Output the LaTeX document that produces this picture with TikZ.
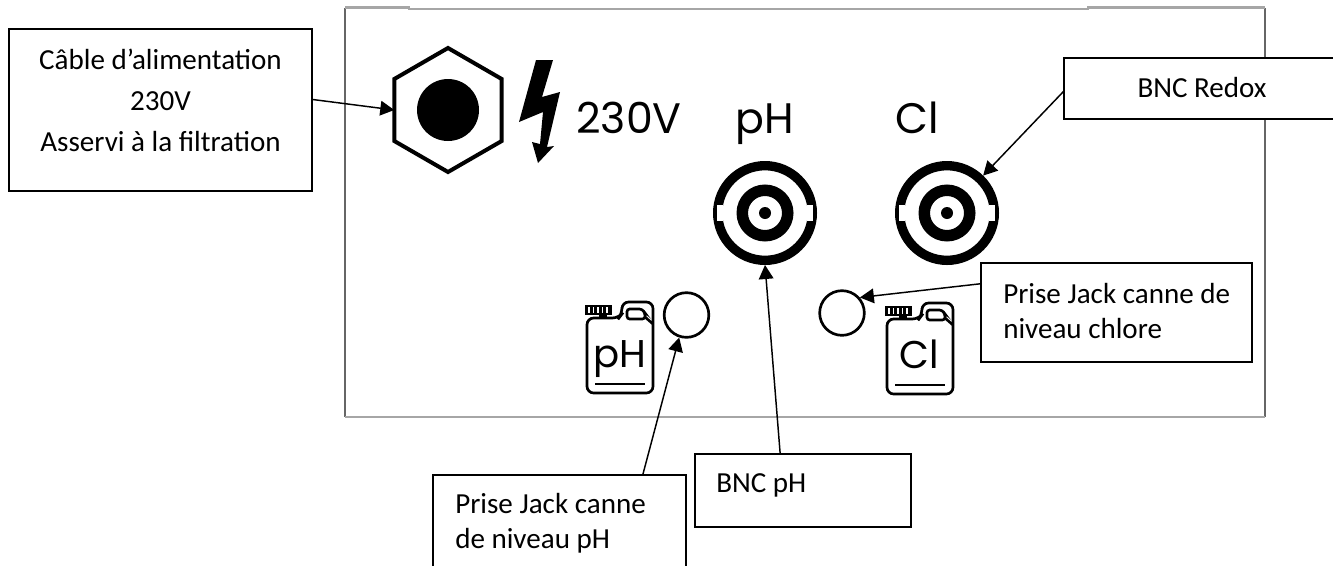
\documentclass[tikz,border=0pt]{standalone}
\usepackage{fontspec}
\setmainfont{Carlito}
\newfontfamily\panelfont{Poppins}
\usetikzlibrary{arrows.meta, shapes.geometric}

\tikzset{
  callout/.style={draw, fill=white, line width=1.2pt, inner sep=0pt, outer sep=0pt},
  calltext/.style={inner sep=0pt, font=\fontsize{21.8}{26.5}\selectfont},
  pointer/.style={line width=1.1pt, -{Triangle[length=10.5pt,width=11pt]}},
  jack/.style={circle, draw, line width=2pt, minimum size=33.5pt, inner sep=0pt, outer sep=1pt},
  bncring/.style={circle, draw, line width=7pt, minimum size=71pt, inner sep=0pt, outer sep=3.5pt},
  paneltext/.style={inner sep=0pt, anchor=base, font=\panelfont\fontsize{#1}{#1}\selectfont},
}

% one BNC socket, the outer ring is the named node
\newcommand{\bncsocket}[3]{
  \node [bncring] (#3) at (#1,#2) {};
  \fill [white] (#1-48,#2-8) rectangle (#1-42,#2+8);
  \fill [white] (#1+42,#2-8) rectangle (#1+48,#2+8);
  \draw [line width=8.6pt] (#1,#2) circle [radius=22.75];
  \fill (#1,#2) circle [radius=6];
}

% one can, drawn at the place of the chlorine one and shifted
\newcommand{\canister}[3]{
\begin{scope}[shift={(#1,#2)}, line width=2pt]
  \draw [rounded corners=5pt] (887,394) -- (887,319) -- (919,319) -- (922,315) -- (922,303) -- (953,303) -- (953,394) -- cycle ;
  \draw [rounded corners=2pt] (927,320) -- (927,310) -- (942,310) -- (945,314) -- (945,320) -- cycle ;
  \draw (945,318) -- (953,325) ;
  \fill (885,306) rectangle (912,316) ;
  \fill (899,316) rectangle (907,319) ;
  \foreach \tick in {889,893.5,898,902.5,907} {
    \draw [white, line width=0.8pt] (\tick,308) -- (\tick,314) ;
  }
  \draw [line width=2.2pt] (895,385) -- (945,385) ;
  \node [paneltext=29] at (919.5,368) {#3};
\end{scope}
}

\begin{document}
\begin{tikzpicture}[x=0.75pt,y=0.75pt,yscale=-1,xscale=1]
\clip (0,0) rectangle (1333,565) ;

%Shape: Panel
\draw [color=black!60, line width=1.1pt] (1265,8) -- (1265,417) ;
\draw [color=black!60, line width=1.1pt] (345,8) -- (345,417) ;
\draw [color=black!35, line width=1.6pt] (345,7.5) -- (409,7.5) -- (409,9) -- (1088,9) -- (1088,7.5) -- (1265,7.5) ;
\draw [color=black!35, line width=1.6pt] (345,417) -- (1265,417) ;

%Shape: Hexagon
\node [regular polygon, regular polygon sides=6, shape border rotate=30, draw, line width=3pt, minimum size=93pt, inner sep=0pt, outer sep=0pt] (mainsHex) at (448,110) {};
\fill (448,110) circle [radius=31] ;
%Shape: Bolt
\fill (536,60) -- (553,60) -- (542,97) -- (560,92) -- (547,147) -- (554,146) -- (538,163) -- (532,142) -- (540,144) -- (543,112) -- (519,122) -- cycle ;

% Text Node
\node [paneltext=32] (voltText) at (629,133) {230V};
\node [paneltext=32] (phText) at (765,133) {pH};
\node [paneltext=32] (clText) at (917.5,133) {Cl};

%Shape: Sockets
\bncsocket{765}{213}{bncPh}
\bncsocket{947}{213}{bncCl}
\node [jack] (jackPh) at (686.5,315) {};
\node [jack] (jackCl) at (842,313) {};
\canister{-300}{-1}{pH}
\canister{0}{0}{Cl}

%Shape: Boxes
\node [callout, minimum width=227.25pt, minimum height=121.5pt] (cableBox) at (160.5,110) {};
\node [callout, minimum width=207pt, minimum height=45.75pt] (redoxBox) at (1202,88.5) {};
\node [callout, minimum width=203.25pt, minimum height=74.25pt] (chloreBox) at (1116.5,312.5) {};
\node [callout, minimum width=189.75pt, minimum height=75pt] (jackPhBox) at (559.5,525) {};
\node [callout, minimum width=162pt, minimum height=54.75pt] (bncPhBox) at (803,490.5) {};

% Text Node
\node [calltext, align=center, font=\fontsize{21.8}{30.75}\selectfont] (cableText) at (160.5,100) {Câble d’alimentation\\230V\\Asservi à la filtration};
\node [calltext, anchor=base] (redoxText) at (1202,97) {BNC Redox};
\node [calltext, align=left, anchor=west] (chloreText) at (1003,311) {Prise Jack canne de\\niveau chlore};
\node [calltext, align=left, anchor=west] (jackPhText) at (455,523) {Prise Jack canne\\de niveau pH};
\node [calltext, anchor=base west] (bncPhText) at (716,492) {BNC pH};

%Straight Lines
\draw [pointer] (cableBox.4.3) -- (mainsHex.180) ;
\draw [pointer] (redoxBox.181.4) -- (bncCl.46) ;
\draw [pointer] (chloreBox.168.9) -- (jackCl.41.6) ;
\draw [pointer] (jackPhBox.31.8) -- (jackPh.252) ;
\draw [pointer] (bncPhBox.122) -- (bncPh.south) ;

\end{tikzpicture}
\end{document}
